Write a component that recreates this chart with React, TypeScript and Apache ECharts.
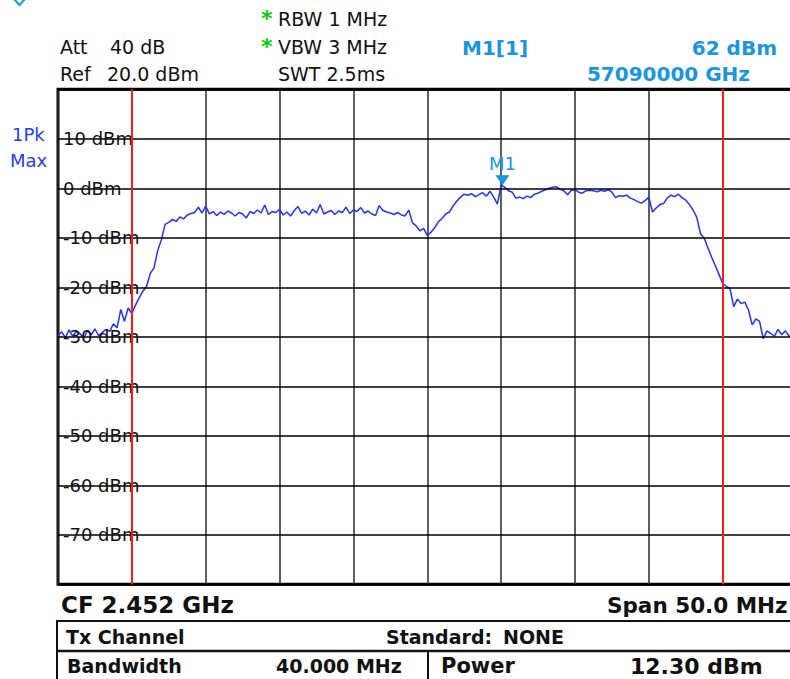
import React, { useEffect, useRef } from 'react';
import * as echarts from 'echarts';

// Trace values (dBm) of the sweep, one every 0.25 MHz from the start frequency (CF - span/2)
const powerDbm = [
  -29.8, -29.0, -30.2, -28.6, -29.9, -28.9, -29.4, -30.3, -28.7, -29.6,
  -28.4, -29.8, -29.1, -28.5, -28.9, -27.4, -28.2, -24.5, -26.9, -24.2,
  -25.3, -23.6, -22.1, -20.8, -19.8, -17.2, -16.1, -12.6, -10.4, -7.3,
  -6.9, -6.3, -6.7, -5.8, -6.2, -5.4, -5.1, -4.9, -3.8, -5.0,
  -3.6, -5.2, -4.7, -5.5, -4.8, -5.3, -4.6, -5.0, -5.6, -4.9,
  -5.2, -6.0, -4.7, -5.1, -4.4, -5.0, -3.4, -5.3, -4.7, -4.9,
  -4.3, -5.4, -4.8, -5.6, -4.5, -3.7, -5.1, -4.6, -5.4, -4.2,
  -5.0, -3.3, -5.2, -4.8, -4.5, -5.3, -4.6, -4.9, -3.8, -5.1,
  -4.4, -4.7, -3.9, -5.0, -4.6, -5.2, -5.5, -3.5, -4.5, -4.8,
  -5.0, -5.3, -4.9, -5.4, -5.6, -4.4, -7.0, -7.6, -8.6, -8.1,
  -9.5, -8.9, -8.0, -6.8, -6.1, -5.2, -4.8, -3.6, -2.6, -1.8,
  -1.2, -1.4, -1.1, -1.7, -1.3, -0.9, -1.6, -0.6, -1.8, -3.2,
  0.62, 0.2, -0.5, -0.8, -2.0, -1.8, -2.1, -1.6, -1.9, -1.2,
  -1.0, -0.6, -0.3, 0.0, 0.2, 0.3, -0.2, -0.5, -1.3, -0.4,
  -0.3, -0.8, -1.0, -0.5, -0.4, -0.5, -0.7, -0.4, -0.6, -0.3,
  -0.8, -1.9, -1.5, -1.6, -1.4, -2.0, -2.3, -2.7, -3.0, -2.5,
  -1.8, -4.8, -4.0, -3.3, -3.1, -2.0, -1.4, -1.7, -1.2, -1.9,
  -2.4, -3.3, -4.4, -5.9, -9.2, -10.1, -12.0, -13.9, -15.6, -17.4,
  -19.2, -19.8, -20.3, -23.9, -22.4, -23.3, -23.0, -24.6, -27.6, -26.4,
  -26.9, -30.4, -28.8, -29.3, -29.9, -28.5, -29.6, -28.8, -29.9, -30.1,
  -29.7,
];
const SWEEP_STEP_MHZ = 0.25;
const SPAN_MHZ = 50;
const DIV_MHZ = 5;
const REF_DBM = 20;
const BOTTOM_DBM = -80;
const DB_PER_DIV = 10;
const channelEdgesMHz = [5, 45];
const markerM1 = { label: 'M1', freqMHz: 30.09, dbm: 0.62 };

const headerLeft = [
  { text: 'Att', x: 60, y: 47 },
  { text: '40 dB', x: 110, y: 47 },
  { text: 'Ref', x: 60, y: 74 },
  { text: '20.0 dBm', x: 107, y: 74 },
];
const headerMid = [
  { text: 'RBW 1 MHz', x: 278, y: 19, star: true },
  { text: 'VBW 3 MHz', x: 278, y: 47, star: true },
  { text: 'SWT 2.5ms', x: 278, y: 74, star: false },
];
const markerTexts = [
  { text: 'M1[1]', x: 462, y: 48, align: 'left' },
  { text: '62 dBm', x: 777, y: 48, align: 'right' },
  { text: '57090000 GHz', x: 750, y: 74, align: 'right' },
];
const footerTexts = [
  { text: 'CF 2.452 GHz', x: 61, y: 605, size: 23 },
  { text: 'Span 50.0 MHz', x: 607, y: 605, size: 21.5 },
  { text: 'Tx Channel', x: 66, y: 637, size: 19 },
  { text: 'Standard:', x: 386, y: 637, size: 19 },
  { text: 'NONE', x: 503, y: 637, size: 19 },
  { text: 'Bandwidth', x: 67, y: 666, size: 19 },
  { text: '40.000 MHz', x: 276, y: 666, size: 19 },
  { text: 'Power', x: 441, y: 666, size: 21 },
  { text: '12.30 dBm', x: 630, y: 666, size: 22 },
];

const FONT = 'DejaVu Sans';
const MARK_BLUE = '#1a96dc';
const TRACE_BLUE = '#2233ff';

function txt(text: string, x: number, y: number, o: any = {}) {
  return {
    type: 'text',
    x,
    y,
    silent: true,
    z: 10,
    style: {
      text,
      fill: o.fill || '#111',
      fontSize: o.size || 19,
      fontFamily: FONT,
      fontWeight: o.weight || 'normal',
      align: o.align || 'left',
      verticalAlign: 'middle',
    },
  };
}

export default function App() {
  const ref = useRef<HTMLDivElement>(null);
  useEffect(() => {
    if (!ref.current) return;
    const chart = echarts.init(ref.current, undefined, { renderer: 'svg' });
    const trace = powerDbm.map((v, i) => [i * SWEEP_STEP_MHZ, v]);

    const graphics: any[] = [];
    graphics.push({
      type: 'polyline',
      silent: true,
      shape: { points: [[13, -2], [19.5, 5], [26, -2]] },
      style: { stroke: MARK_BLUE, lineWidth: 2, fill: 'none' },
    });
    headerLeft.forEach((h) => graphics.push(txt(h.text, h.x, h.y)));
    headerMid.forEach((h) => {
      graphics.push(txt(h.text, h.x, h.y));
      if (h.star) graphics.push(txt('*', 261, h.y - 1, { fill: '#00d400', size: 22, weight: 'bold' }));
    });
    markerTexts.forEach((m) =>
      graphics.push(txt(m.text, m.x, m.y, { fill: MARK_BLUE, size: 20, weight: 'bold', align: m.align }))
    );
    graphics.push(txt('1Pk', 12, 134, { fill: '#2040f0', size: 18 }));
    graphics.push(txt('Max', 10, 160, { fill: '#2040f0', size: 18 }));
    footerTexts.forEach((f) => graphics.push(txt(f.text, f.x, f.y, { size: f.size, weight: 'bold' })));
    // table
    graphics.push({
      type: 'rect',
      silent: true,
      shape: { x: 57, y: 621, width: 760, height: 90 },
      style: { stroke: '#111', lineWidth: 2, fill: 'none' },
    });
    graphics.push({
      type: 'line',
      silent: true,
      shape: { x1: 57, y1: 651, x2: 800, y2: 651 },
      style: { stroke: '#111', lineWidth: 2.5 },
    });
    graphics.push({
      type: 'line',
      silent: true,
      shape: { x1: 428, y1: 651, x2: 428, y2: 700 },
      style: { stroke: '#111', lineWidth: 2 },
    });

    chart.setOption({
      animation: false,
      backgroundColor: '#ffffff',
      grid: {
        left: 58,
        top: 89.25,
        width: 738.5,
        height: 495,
        show: true,
        borderColor: '#000',
        borderWidth: 3,
        containLabel: false,
        outerBoundsMode: 'none',
      },
      xAxis: {
        type: 'value',
        min: 0,
        max: SPAN_MHZ,
        interval: DIV_MHZ,
        axisLine: { show: false },
        axisTick: { show: false },
        axisLabel: { show: false },
        splitLine: { show: true, lineStyle: { color: '#2a2a2a', width: 1.5 } },
      },
      yAxis: {
        type: 'value',
        min: BOTTOM_DBM,
        max: REF_DBM,
        interval: DB_PER_DIV,
        axisLine: { show: false },
        axisTick: { show: false },
        splitLine: { show: true, lineStyle: { color: '#000', width: 1.5 } },
        axisLabel: {
          inside: true,
          margin: 5,
          color: '#111',
          fontSize: 18,
          fontFamily: FONT,
          formatter: (v: number) => (v === REF_DBM || v === BOTTOM_DBM ? '' : `${v} dBm`),
        },
        z: 3,
      },
      graphic: graphics,
      series: [
        {
          type: 'line',
          data: trace,
          showSymbol: false,
          symbol: 'none',
          lineStyle: { color: TRACE_BLUE, width: 1.5 },
          silent: true,
          z: 2,
          markLine: {
            silent: true,
            symbol: ['none', 'none'],
            label: { show: false },
            lineStyle: { color: '#ff1a1a', width: 2, type: 'solid' },
            data: channelEdgesMHz.map((f) => ({ xAxis: f })),
          },
          markPoint: {
            silent: true,
            symbol: 'triangle',
            symbolRotate: 180,
            symbolSize: [14, 10],
            symbolOffset: [0, -5],
            itemStyle: { color: MARK_BLUE },
            label: {
              show: true,
              position: 'top',
              distance: 3,
              formatter: markerM1.label,
              color: MARK_BLUE,
              fontSize: 18,
              fontFamily: FONT,
            },
            data: [{ coord: [markerM1.freqMHz, markerM1.dbm] }],
          },
        },
      ],
    });
    return () => chart.dispose();
  }, []);
  return (
    <div
      ref={ref}
      style={{ position: 'absolute', left: 0, top: 0, width: 790, height: 679, background: '#fff' }}
    />
  );
}
